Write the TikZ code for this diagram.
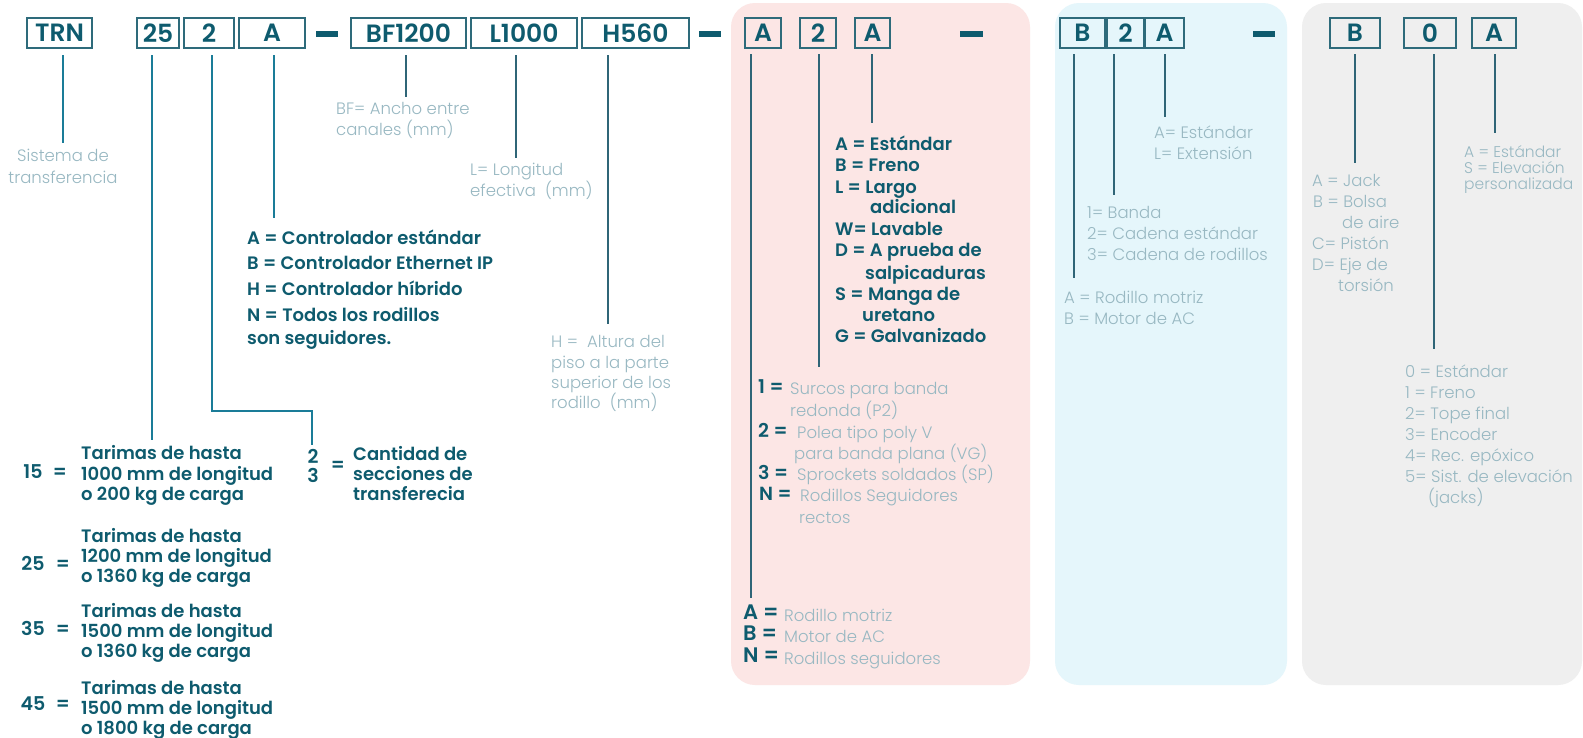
\documentclass[tikz,border=0pt]{standalone}
\usepackage{fontspec}
\setmainfont{Poppins}
\newfontfamily\ltf{Poppins Light}
\newfontfamily\sbf{Poppins SemiBold}
\definecolor{cdark}{HTML}{0E5B6E}
\definecolor{cbox}{HTML}{2E6B7B}
\definecolor{cline}{HTML}{1A7C98}
\definecolor{clineb}{HTML}{2F6577}
\definecolor{clight}{HTML}{98B8C2}
\definecolor{cpink}{HTML}{FCE6E5}
\definecolor{cblue}{HTML}{E5F6FB}
\definecolor{cgray}{HTML}{EFEFEF}
\tikzset{
  codebox/.style={draw=cbox, line width=2.4pt, inner sep=0pt, minimum height=30pt,
    font=\sbf\fontsize{25}{25}\selectfont, text=cdark},
  sepbar/.style={fill=cdark, draw=none},
  conn/.style={draw=cline, line width=2.1pt},
  connb/.style={draw=clineb, line width=2.1pt},
  lt/.style={font=\ltf\fontsize{16.5}{20}\selectfont, text=clight, anchor=mid west, inner sep=0pt, yshift=-3.5pt},
  ltc/.style={lt, anchor=mid},
  bd/.style={font=\sbf\fontsize{18}{20}\selectfont, text=cdark, anchor=mid west, inner sep=0pt},
  bdx/.style={bd, yshift=-5pt},
  bdl/.style={font=\sbf\fontsize{19}{20}\selectfont, text=cdark, anchor=mid west, inner sep=0pt},
  bdd/.style={bdl, yshift=-3pt},
  bdm/.style={bdl, font=\sbf\fontsize{21}{22}\selectfont, yshift=-2pt},
  bdc/.style={bdl, anchor=mid},
  panel/.style={draw=none, rounded corners=24pt},
}
\begin{document}
\begin{tikzpicture}[x=1pt,y=-1pt]
\useasboundingbox (0,0) rectangle (1583,737);
\fill[white] (0,0) rectangle (1583,737);
% panels
\fill[panel, cpink] (731,3) rectangle (1030,685);
\fill[panel, cblue] (1055,3) rectangle (1287,685);
\fill[panel, cgray] (1302,3) rectangle (1582,685);

% code boxes
\node[codebox, minimum width=65pt] (trn) at (59.5,33) {TRN};
\node[codebox, minimum width=42pt] (b25) at (158,33) {25};
\node[codebox, minimum width=50pt] (b2) at (209,33) {2};
\node[codebox, minimum width=66pt] (bA) at (272,33) {A};
\node[codebox, minimum width=115pt] (bbf) at (408.5,33) {BF1200};
\node[codebox, minimum width=106pt] (bl) at (524,33) {L1000};
\node[codebox, minimum width=107pt] (bh) at (635.5,33) {H560};
\node[codebox, minimum width=36pt] (pA) at (763,33) {A};
\node[codebox, minimum width=36pt] (p2) at (818,33) {2};
\node[codebox, minimum width=35pt] (pA3) at (872.5,33) {A};
\node[codebox, minimum width=45pt] (qB) at (1082.5,33) {B};
\node[codebox, minimum width=37pt] (q2) at (1125.5,33) {2};
\node[codebox, minimum width=39pt] (qA) at (1164.5,33) {A};
\node[codebox, minimum width=50pt] (rB) at (1355,33) {B};
\node[codebox, minimum width=52pt] (r0) at (1430,33) {0};
\node[codebox, minimum width=44pt] (rA) at (1494,33) {A};

% separators
\fill[sepbar] (316,30.5) rectangle (338,36.5);
\fill[sepbar] (699,30.5) rectangle (721,36.5);
\fill[sepbar] (960,30.5) rectangle (983,36.5);
\fill[sepbar] (1253,30.5) rectangle (1275,36.5);

% connector coordinates
\coordinate (t1) at (63,55);   \coordinate (e1) at (63,143);
\coordinate (t2) at (152,55);  \coordinate (e2) at (152,440);
\coordinate (t3) at (212,55);  \coordinate (k3a) at (212,411); \coordinate (k3b) at (312,411); \coordinate (e3) at (312,445);
\coordinate (t4) at (274,55);  \coordinate (e4) at (274,218);
\coordinate (t5) at (406,55);  \coordinate (e5) at (406,97);
\coordinate (t6) at (516,55);  \coordinate (e6) at (516,158);
\coordinate (t7) at (608,55);  \coordinate (e7) at (608,324);
\coordinate (t8) at (751,54);  \coordinate (e8) at (751,598);
\coordinate (t9) at (819,54);  \coordinate (e9) at (819,367);
\coordinate (t10) at (872,54); \coordinate (e10) at (872,123);
\coordinate (t11) at (1074,54); \coordinate (e11) at (1074,278);
\coordinate (t12) at (1114,54); \coordinate (e12) at (1114,195);
\coordinate (t13) at (1165,54); \coordinate (e13) at (1165,117);
\coordinate (t14) at (1355,54); \coordinate (e14) at (1355,163);
\coordinate (t15) at (1434,54); \coordinate (e15) at (1434,349);
\coordinate (t16) at (1495,54); \coordinate (e16) at (1495,133);

\draw[conn] (t1) -- (e1);
\draw[conn] (t2) -- (e2);
\draw[conn] (t3) -- (k3a) -- (k3b) -- (e3);
\draw[conn] (t4) -- (e4);
\draw[connb] (t5) -- (e5);
\draw[connb] (t6) -- (e6);
\draw[connb] (t7) -- (e7);
\draw[connb] (t8) -- (e8);
\draw[connb] (t9) -- (e9);
\draw[connb] (t10) -- (e10);
\draw[connb] (t11) -- (e11);
\draw[connb] (t12) -- (e12);
\draw[connb] (t13) -- (e13);
\draw[connb] (t14) -- (e14);
\draw[connb] (t15) -- (e15);
\draw[connb] (t16) -- (e16);

% TRN
\node[ltc] (s1) at (63,155) {Sistema de};
\node[ltc] (s2) at (63,177) {transferencia};
% BF
\node[lt] (bf1) at (336,108) {BF= Ancho entre};
\node[lt] (bf2) at (336,129) {canales (mm)};
% L
\node[lt] (lo1) at (470,169) {L= Longitud};
\node[lt] (lo2) at (470,190) {efectiva\ \ (mm)};
% H
\node[lt] (h1) at (551,341) {H =\ \ Altura del};
\node[lt] (h2) at (551,362) {piso a la parte};
\node[lt] (h3) at (551,382) {superior de los};
\node[lt] (h4) at (551,402) {rodillo\ \ (mm)};

% controller
\node[bdx] (c1) at (247,237) {A = Controlador estándar};
\node[bdx] (c2) at (247,262) {B = Controlador Ethernet IP};
\node[bdx] (c3) at (247,288) {H = Controlador híbrido};
\node[bdx] (c4) at (247,314) {N = Todos los rodillos};
\node[bdx] (c5) at (247,337) {son seguidores.};

% sizes
\node[bdc] (n15) at (33,476) {15};
\node[bdc] (q15) at (60,476) {=};
\node[bd] (t15a) at (81,457) {Tarimas de hasta};
\node[bd] (t15b) at (81,478) {1000 mm de longitud};
\node[bd] (t15c) at (81,498) {o 200 kg de carga};
\node[bdc] (n25) at (33,568) {25};
\node[bdc] (q25) at (63,568) {=};
\node[bd] (t25a) at (81,540) {Tarimas de hasta};
\node[bd] (t25b) at (81,560) {1200 mm de longitud};
\node[bd] (t25c) at (81,580) {o 1360 kg de carga};
\node[bdc] (n35) at (33,633) {35};
\node[bdc] (q35) at (63,633) {=};
\node[bd] (t35a) at (81,615) {Tarimas de hasta};
\node[bd] (t35b) at (81,635) {1500 mm de longitud};
\node[bd] (t35c) at (81,655) {o 1360 kg de carga};
\node[bdc] (n45) at (33,708) {45};
\node[bdc] (q45) at (63,708) {=};
\node[bd] (t45a) at (81,692) {Tarimas de hasta};
\node[bd] (t45b) at (81,712) {1500 mm de longitud};
\node[bd] (t45c) at (81,732) {o 1800 kg de carga};

% sections
\node[bdc] (x2) at (313,461) {2};
\node[bdc] (x3) at (313,480) {3};
\node[bdc] (xq) at (338,469) {=};
\node[bd] (xa) at (353,458) {Cantidad de};
\node[bd] (xb) at (353,478) {secciones de};
\node[bd] (xc) at (353,498) {transferecia};

% pink: options
\node[bdx] (o1) at (835,143) {A = Estándar};
\node[bdx] (o2) at (835,164) {B = Freno};
\node[bdx] (o3) at (835,186) {L = Largo};
\node[bdx] (o3b) at (870,206) {adicional};
\node[bdx] (o4) at (835,228) {W= Lavable};
\node[bdx] (o5) at (835,249) {D = A prueba de};
\node[bdx] (o5b) at (865,272) {salpicaduras};
\node[bdx] (o6) at (835,293) {S = Manga de};
\node[bdx] (o6b) at (862,314) {uretano};
\node[bdx] (o7) at (835,335) {G = Galvanizado};

% pink: drive
\node[bdd] (d1l) at (758,388) {1 =};
\node[lt] (d1) at (790,388) {Surcos para banda};
\node[lt] (d1b) at (790,410) {redonda (P2)};
\node[bdd] (d2l) at (758,432) {2 =};
\node[lt] (d2) at (797,432) {Polea tipo poly V};
\node[lt] (d2b) at (794,453) {para banda plana (VG)};
\node[bdd] (d3l) at (758,474) {3 =};
\node[lt] (d3) at (797,474) {Sprockets soldados (SP)};
\node[bdd] (d4l) at (759,495) {N =};
\node[lt] (d4) at (800,495) {Rodillos Seguidores};
\node[lt] (d4b) at (799,517) {rectos};

% pink: bottom
\node[bdm] (m1l) at (743,615) {A =};
\node[lt] (m1) at (784,615) {Rodillo motriz};
\node[bdm] (m2l) at (743,636) {B =};
\node[lt] (m2) at (784,636) {Motor de AC};
\node[bdm] (m3l) at (743,658) {N =};
\node[lt] (m3) at (784,658) {Rodillos seguidores};

% blue
\node[lt] (u1) at (1154,132) {A= Estándar};
\node[lt] (u2) at (1154,153) {L= Extensión};
\node[lt] (v1) at (1087,212) {1= Banda};
\node[lt] (v2) at (1087,233) {2= Cadena estándar};
\node[lt] (v3) at (1087,254) {3= Cadena de rodillos};
\node[lt] (w1) at (1064,297) {A = Rodillo motriz};
\node[lt] (w2) at (1064,318) {B = Motor de AC};

% gray
\node[lt, font=\ltf\fontsize{15.5}{16}\selectfont] (g1) at (1464,151) {A = Estándar};
\node[lt, font=\ltf\fontsize{15.5}{16}\selectfont] (g2) at (1464,167) {S = Elevación};
\node[lt, font=\ltf\fontsize{15.5}{16}\selectfont] (g3) at (1464,183) {personalizada};
\node[lt] (j1) at (1312,180) {A = Jack};
\node[lt] (j2) at (1313,201) {B = Bolsa};
\node[lt] (j2b) at (1342,222) {de aire};
\node[lt] (j3) at (1312,243) {C= Pistón};
\node[lt] (j4) at (1312,264) {D= Eje de};
\node[lt] (j4b) at (1338,285) {torsión};
\node[lt] (z0) at (1405,371) {0 = Estándar};
\node[lt] (z1) at (1405,392) {1 = Freno};
\node[lt] (z2) at (1405,413) {2= Tope final};
\node[lt] (z3) at (1405,434) {3= Encoder};
\node[lt] (z4) at (1405,455) {4= Rec. epóxico};
\node[lt] (z5) at (1405,476) {5= Sist. de elevación};
\node[lt] (z5b) at (1428,497) {(jacks)};
\end{tikzpicture}
\end{document}
